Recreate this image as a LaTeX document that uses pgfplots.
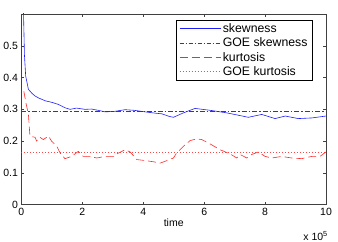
\documentclass[border=0pt]{standalone}
\usepackage{fontspec}
\setmainfont{Liberation Sans}
\usepackage{pgfplots}
\pgfplotsset{compat=1.18}
\begin{document}
\begin{tikzpicture}
\begin{axis}[
  scale only axis,
  width=305bp, height=191bp,
  xmin=0, xmax=10, ymin=0, ymax=0.6,
  xtick={0,2,4,6,8,10},
  ytick={0,0.1,0.2,0.3,0.4,0.5},
  yticklabels={0,0.1,0.2,0.3,0.4,0.5},
  tick align=inside,
  major tick length=3bp,
  axis line style={black!75, line width=0.6pt},
  tick style={black!75, line width=0.5pt},
  /pgf/number format/assume math mode=true,
  ticklabel style={font=\fontsize{10.5bp}{12bp}\selectfont},
  xlabel={time},
  xlabel style={font=\fontsize{10.5bp}{12bp}\selectfont, yshift=4bp},
  legend style={at={(0.508,0.97)}, anchor=north west,
    font=\fontsize{12.3bp}{15bp}\selectfont, cells={anchor=west},
    inner xsep=3bp, inner ysep=2.5bp, row sep=1.5bp, nodes={inner sep=1.2bp}},
  legend image post style={xscale=2.45},
]
\addlegendimage{draw={rgb,255:red,30;green,30;blue,250}, line width=0.6pt}
\addlegendentry{skewness}
\addlegendimage{draw={rgb,255:red,40;green,40;blue,255}, line width=0.7pt, dash pattern=on 4bp off 2bp on 1bp off 2bp}
\addlegendentry{GOE skewness}
\addlegendimage{draw={rgb,255:red,255;green,40;blue,40}, line width=0.6pt, dash pattern=on 8bp off 4bp}
\addlegendentry{kurtosis}
\addlegendimage{draw={rgb,255:red,255;green,70;blue,70}, line width=0.6pt, dash pattern=on 1bp off 2bp}
\addlegendentry{GOE kurtosis}
\addplot[forget plot, draw={rgb,255:red,40;green,40;blue,255}, line width=0.8pt, dash pattern=on 5bp off 2bp on 1.5bp off 2bp] coordinates {(0,0.294)(10,0.294)};
\addplot[forget plot, draw={rgb,255:red,255;green,70;blue,70}, line width=0.6pt, dash pattern=on 1bp off 2bp] coordinates {(0,0.165)(10,0.165)};
\addplot[forget plot, draw={rgb,255:red,30;green,30;blue,250}, line width=0.6pt] coordinates {
(0.01,0.85)(0.04,0.68)(0.07,0.6)(0.1,0.47)(0.14,0.405)(0.23,0.363)(0.35,0.35)(0.45,0.342)(0.56,0.336)(0.78,0.327)(1.0,0.322)(1.2,0.316)(1.43,0.305)(1.6,0.300)(1.81,0.304)(2.09,0.300)(2.3,0.301)(2.52,0.297)(2.75,0.292)(3.08,0.294)(3.41,0.299)(3.7,0.297)(4.07,0.292)(4.4,0.288)(4.61,0.286)(4.85,0.278)(4.99,0.275)(5.32,0.289)(5.70,0.303)(6.2,0.297)(6.74,0.289)(7.1,0.282)(7.45,0.275)(7.89,0.284)(8.33,0.271)(8.66,0.279)(9.09,0.271)(9.53,0.273)(10,0.279)
};
\addplot[forget plot, draw={rgb,255:red,255;green,40;blue,40}, line width=0.6pt, dash pattern=on 8bp off 4bp] coordinates {
(0.08,0.357)(0.15,0.32)(0.23,0.284)(0.28,0.216)(0.45,0.212)(0.50,0.20)(0.61,0.212)(0.72,0.205)(0.89,0.216)(0.99,0.20)(1.16,0.184)(1.27,0.163)(1.43,0.145)(1.65,0.152)(1.87,0.168)(2.03,0.152)(2.25,0.152)(2.47,0.147)(2.75,0.152)(3.03,0.152)(3.19,0.163)(3.41,0.173)(3.57,0.166)(3.79,0.142)(4.07,0.139)(4.34,0.135)(4.56,0.131)(4.78,0.139)(4.99,0.147)(5.10,0.163)(5.32,0.184)(5.54,0.202)(5.76,0.207)(5.92,0.205)(6.2,0.191)(6.52,0.173)(6.85,0.160)(7.07,0.147)(7.18,0.158)(7.40,0.147)(7.56,0.158)(7.78,0.166)(8.0,0.152)(8.22,0.147)(8.55,0.152)(8.87,0.147)(9.2,0.145)(9.53,0.152)(9.8,0.152)(10,0.166)
};
\end{axis}
\node[anchor=north east, font=\fontsize{10.5bp}{12bp}\selectfont, inner sep=0pt] at ([xshift=2bp,yshift=-27bp]current axis.south east) {x 10\textsuperscript{5}};
\path (current axis.south west) ++(-21bp,-37bp) rectangle ++(338bp,242bp);
\end{tikzpicture}
\end{document}
